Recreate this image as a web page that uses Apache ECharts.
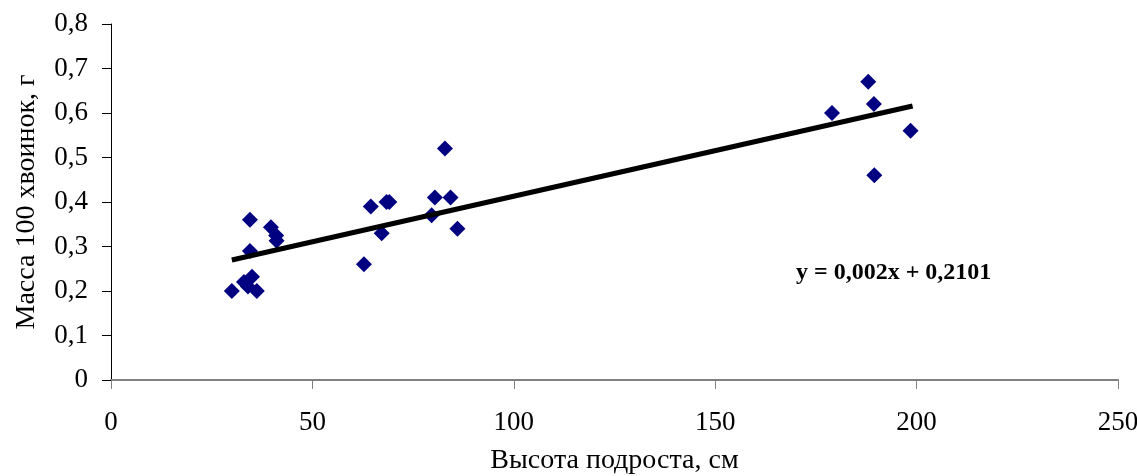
<!DOCTYPE html>
<html><head><meta charset="utf-8">
<script src="https://cdn.jsdelivr.net/npm/echarts@6/dist/echarts.min.js"></script>
<style>html,body{margin:0;padding:0;background:#fff}#c{width:1137px;height:476px}</style>
</head><body><div id="c"></div>
<script>
const heights = [30, 34.5, 34.5, 33, 35, 34, 36.2, 39.7, 41, 41.1, 62.8, 64.5, 67.2, 68.4, 69.1, 79.6, 80.4, 82.9, 84.3, 86, 179, 188, 189.4, 189.5, 198.5];
const masses  = [0.20, 0.36, 0.29, 0.22, 0.232, 0.21, 0.20, 0.343, 0.325, 0.313, 0.26, 0.39, 0.33, 0.40, 0.40, 0.37, 0.41, 0.52, 0.41, 0.34, 0.60, 0.67, 0.62, 0.46, 0.56];
const trendX = [30, 199];
const trendY = [0.2697, 0.6157];
const xTicks = [0, 50, 100, 150, 200, 250];
const equation = 'y = 0,002x + 0,2101';
const xName = 'Высота подроста, см';
const yName = 'Масса 100 хвоинок, г';

const font = '"Liberation Serif", "Times New Roman", serif';
const chart = echarts.init(document.getElementById('c'));
chart.setOption({
  animation: false,
  grid: {left: 111, right: 19, top: 24, bottom: 96, containLabel: false, outerBoundsMode: 'none'},
  xAxis: {
    type: 'value', min: 0, max: 250, interval: 50,
    name: xName, nameLocation: 'middle', nameGap: 67,
    nameTextStyle: {fontFamily: font, fontSize: 28, color: '#000'},
    axisLine: {lineStyle: {color: '#808080', width: 2}},
    axisTick: {length: 9, lineStyle: {color: '#808080'}},
    axisLabel: {fontFamily: font, fontSize: 27, color: '#000', margin: 29,
      formatter: v => xTicks.includes(v) ? String(v) : ''},
    splitLine: {show: false}
  },
  yAxis: {
    type: 'value', min: 0, max: 0.8, interval: 0.1,
    name: yName, nameLocation: 'middle', nameGap: 70,
    nameTextStyle: {fontFamily: font, fontSize: 28, color: '#000'},
    axisLine: {show: true, lineStyle: {color: '#000', width: 1}},
    axisTick: {show: true, length: 9, lineStyle: {color: '#000'}},
    axisLabel: {fontFamily: font, fontSize: 27, color: '#000', margin: 23,
      formatter: v => (Math.round(v * 10) / 10).toString().replace('.', ',')},
    splitLine: {show: false}
  },
  series: [
    {
      type: 'line', data: trendX.map((x, i) => [x, trendY[i]]),
      showSymbol: false, lineStyle: {color: '#000', width: 5}, z: 3
    },
    {
      type: 'scatter', data: heights.map((h, i) => [h, masses[i]]),
      symbol: 'diamond', symbolSize: 16,
      itemStyle: {color: '#000080', opacity: 1}, z: 2
    }
  ],
  graphic: [{
    type: 'text', left: 796, top: 261,
    style: {text: equation, font: 'bold 24px ' + font, fill: '#000'}
  }]
});
</script></body></html>
